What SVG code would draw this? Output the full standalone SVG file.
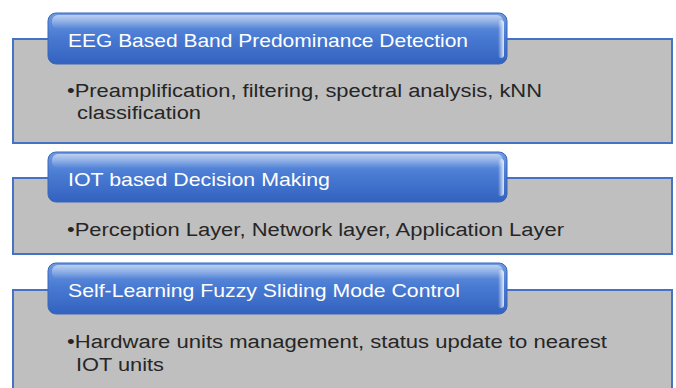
<svg xmlns="http://www.w3.org/2000/svg" width="676" height="388" viewBox="0 0 676 388">
<defs>
<linearGradient id="blue" x1="0" y1="0" x2="0" y2="1">
<stop offset="0" stop-color="#6E9AE2"/>
<stop offset="0.45" stop-color="#4A7BD3"/>
<stop offset="1" stop-color="#3262BF"/>
</linearGradient>
<linearGradient id="shine" x1="0" y1="0" x2="0" y2="1">
<stop offset="0" stop-color="#FFFFFF" stop-opacity="0.55"/>
<stop offset="1" stop-color="#FFFFFF" stop-opacity="0"/>
</linearGradient>
<linearGradient id="edge" x1="0" y1="0" x2="1" y2="0">
<stop offset="0" stop-color="#FFFFFF" stop-opacity="0"/>
<stop offset="1" stop-color="#FFFFFF" stop-opacity="0.85"/>
</linearGradient>
</defs>
<style>
.panel{fill:#BFBFBF;stroke:#4472C4;stroke-width:2}
.tab{fill:url(#blue);stroke:#3A66B8;stroke-width:1}
.title{font-family:"Liberation Sans",Arial,sans-serif;font-size:19px;fill:#FFFFFF}
.body{font-family:"Liberation Sans",Arial,sans-serif;font-size:18px;fill:#262626}
</style>
<rect width="676" height="388" fill="#FFFFFF"/>
<g id="node1">
<rect class="panel" x="13" y="39" width="659" height="104"/>
<rect class="tab" x="48" y="13" width="459" height="51" rx="8"/>
<rect x="52" y="15" width="451" height="14" rx="6" fill="url(#shine)"/>
<rect x="498" y="20" width="6" height="38" rx="3" fill="url(#edge)"/>
<text class="title" x="68" y="47" textLength="400" lengthAdjust="spacingAndGlyphs">EEG Based Band Predominance Detection</text>
<text class="body" x="67" y="97" textLength="475" lengthAdjust="spacingAndGlyphs">•Preamplification, filtering, spectral analysis, kNN</text>
<text class="body" x="77" y="119" textLength="124" lengthAdjust="spacingAndGlyphs">classification</text>
</g>
<g id="node2">
<rect class="panel" x="13" y="178" width="659" height="76"/>
<rect class="tab" x="48" y="152" width="459" height="50" rx="8"/>
<rect x="52" y="154" width="451" height="14" rx="6" fill="url(#shine)"/>
<rect x="498" y="159" width="6" height="37" rx="3" fill="url(#edge)"/>
<text class="title" x="68" y="186" textLength="262" lengthAdjust="spacingAndGlyphs">IOT based Decision Making</text>
<text class="body" x="67" y="236" textLength="497" lengthAdjust="spacingAndGlyphs">•Perception Layer, Network layer, Application Layer</text>
</g>
<g id="node3">
<rect class="panel" x="13" y="290" width="659" height="110"/>
<rect class="tab" x="48" y="263" width="459" height="51" rx="8"/>
<rect x="52" y="265" width="451" height="14" rx="6" fill="url(#shine)"/>
<rect x="498" y="270" width="6" height="38" rx="3" fill="url(#edge)"/>
<text class="title" x="68" y="297" textLength="392" lengthAdjust="spacingAndGlyphs">Self-Learning Fuzzy Sliding Mode Control</text>
<text class="body" x="67" y="348" textLength="540" lengthAdjust="spacingAndGlyphs">•Hardware units management, status update to nearest</text>
<text class="body" x="76" y="371" textLength="88" lengthAdjust="spacingAndGlyphs">IOT units</text>
</g>
<g id="connectors"/>
</svg>
